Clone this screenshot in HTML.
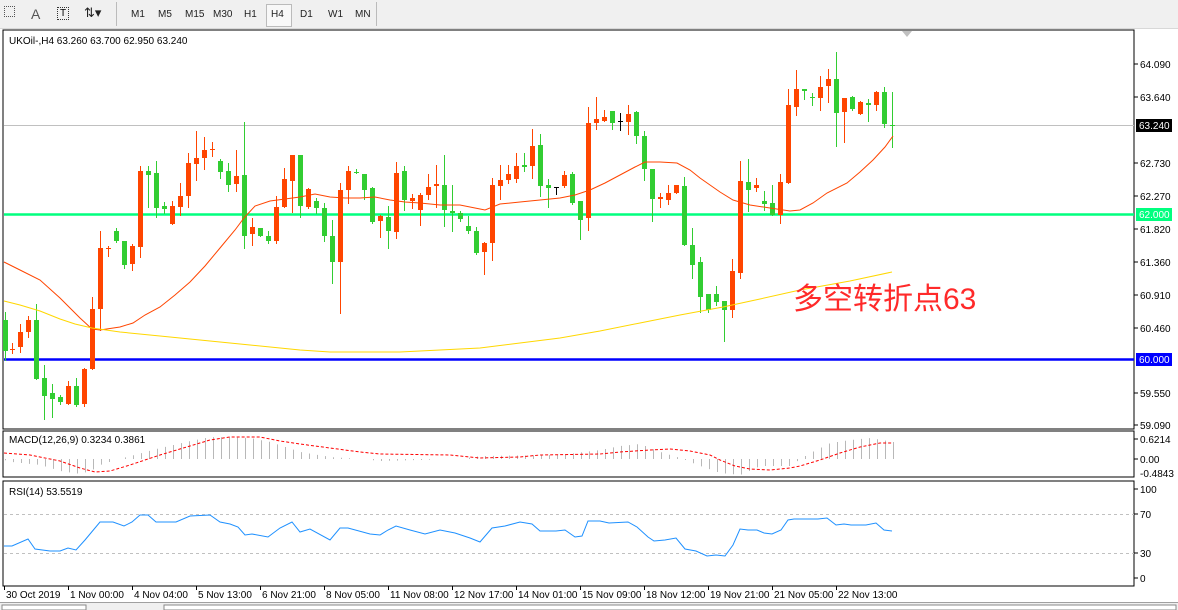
<!DOCTYPE html>
<html><head><meta charset="utf-8">
<style>
html,body{margin:0;padding:0;width:1178px;height:610px;overflow:hidden;background:#f0f0f0;font-family:"Liberation Sans",Tahoma,sans-serif}
#tb{position:absolute;left:0;top:0;width:1178px;height:28px;background:#f0f0f0;border-bottom:1px solid #d8d8d8}
.tf{position:absolute;top:9px;font-size:10px;color:#222}
svg{position:absolute;left:0;top:0}
</style></head><body>
<div id="tb">
 <div style="position:absolute;left:4px;top:6px;width:9px;height:9px;border:1px dotted #555"></div>
 <div class="tf" style="left:31px;top:6px;font-size:14px;color:#555">A</div>
 <div style="position:absolute;left:57px;top:7px;width:10px;height:11px;border:1px dotted #333;font-size:10px;text-align:center;line-height:11px">T</div>
 <div class="tf" style="left:84px;top:5px;font-size:13px">⇅▾</div>
 <div style="position:absolute;left:116px;top:2px;width:1px;height:24px;background:#bbb"></div>
 <div class="tf" style="left:131px">M1</div><div class="tf" style="left:158px">M5</div>
 <div class="tf" style="left:185px">M15</div><div class="tf" style="left:213px">M30</div>
 <div class="tf" style="left:244px">H1</div>
 <div style="position:absolute;left:266px;top:4px;width:24px;height:21px;border:1px solid #bbb;background:#f8f8f8"></div>
 <div class="tf" style="left:271px">H4</div><div class="tf" style="left:300px">D1</div>
 <div class="tf" style="left:328px">W1</div><div class="tf" style="left:355px">MN</div>
 <div style="position:absolute;left:376px;top:2px;width:1px;height:24px;background:#bbb"></div>
</div>
<svg id="s" width="1178" height="610" xmlns="http://www.w3.org/2000/svg" font-family="Liberation Sans, Tahoma, sans-serif" font-size="10"></svg>
<script>
var s=document.getElementById('s');var h='';
function R(x,y,w,hh,f,st){h+='<rect x="'+x+'" y="'+y+'" width="'+w+'" height="'+hh+'" fill="'+f+'"'+(st?' stroke="'+st+'"':'')+'/>';}
function L(x1,y1,x2,y2,c,w,d){h+='<line x1="'+x1+'" y1="'+y1+'" x2="'+x2+'" y2="'+y2+'" stroke="'+c+'" stroke-width="'+(w||1)+'"'+(d?' stroke-dasharray="'+d+'"':'')+'/>';}
function T(x,y,t,c,extra){h+='<text x="'+x+'" y="'+y+'" fill="'+(c||'#000')+'" '+(extra||'')+'>'+t+'</text>';}
function P(pts,c,w,d){h+='<polyline fill="none" stroke="'+c+'" stroke-width="'+(w||1)+'"'+(d?' stroke-dasharray="'+d+'"':'')+' points="'+pts.map(function(p){return p.join(',')}).join(' ')+'"/>';}
R(0,29,1178,581,'#ffffff');
R(3,30,1131,399,'#fff','#000');R(3,431,1131,46,'#fff','#000');R(3,481,1131,105,'#fff','#000');
L(4,125.5,1134,125.5,'#c0c0c0',1);
L(4,214.5,1134,214.5,'#00ff7f',2.5);
L(4,359.5,1134,359.5,'#0000ff',2.5);
var C=[[5,320,351,312,360,'g'],[12,349,349,343,353,'r'],[20,332,347,324,352,'r'],[28,320,332,316,337,'r'],[36,320,379,304,379,'g'],[44,378,396,365,419,'g'],[52,393,399,384,417,'g'],[60,397,402,395,404,'g'],[68,386,404,381,404,'r'],[76,386,405,378,406,'g'],[84,369,404,368,406,'r'],[92,309,369,297,369,'r'],[100,248,309,231,330,'r'],[108,248,248,246,256,'r'],[116,231,241,228,242,'g'],[124,241,265,241,268,'g'],[132,246,264,244,270,'r'],[140,171,247,166,257,'r'],[148,171,175,166,207,'g'],[156,173,208,161,217,'g'],[164,206,209,202,213,'g'],[172,206,224,201,224,'r'],[180,196,207,183,215,'r'],[188,163,196,153,207,'r'],[196,158,164,131,180,'r'],[204,150,158,137,169,'r'],[212,149,149,142,156,'r'],[220,161,172,159,178,'g'],[228,171,185,163,191,'g'],[236,176,184,150,191,'r'],[244,175,236,122,248,'g'],[252,227,234,218,245,'r'],[260,228,236,228,236,'g'],[268,236,241,231,243,'g'],[276,207,241,196,243,'r'],[284,179,207,168,207,'r'],[292,155,181,155,212,'r'],[300,155,206,155,217,'g'],[308,189,207,188,208,'r'],[316,201,208,198,213,'g'],[324,208,236,203,241,'g'],[332,236,262,220,283,'g'],[340,190,262,183,313,'r'],[348,171,190,166,203,'r'],[356,172,172,169,173,'g'],[364,174,190,174,199,'g'],[372,188,222,187,223,'g'],[380,216,221,215,237,'r'],[388,217,231,206,248,'g'],[396,173,232,162,238,'r'],[404,171,200,166,210,'g'],[412,198,201,194,208,'r'],[420,195,210,193,225,'r'],[428,187,195,174,199,'r'],[436,184,186,165,207,'r'],[444,185,210,155,226,'g'],[452,211,213,185,231,'g'],[460,213,219,211,221,'g'],[468,226,231,216,233,'g'],[476,231,253,227,254,'g'],[484,243,252,242,274,'r'],[492,185,243,178,260,'r'],[500,180,186,165,199,'r'],[508,174,180,165,183,'r'],[516,166,179,153,182,'r'],[524,165,167,153,171,'g'],[532,146,166,129,178,'r'],[540,145,186,134,196,'g'],[548,185,188,179,207,'g'],[556,187,187,187,194,'k'],[564,175,186,171,187,'r'],[572,174,203,172,204,'g'],[580,201,220,201,239,'g'],[588,123,218,107,230,'r'],[596,119,123,97,129,'r'],[604,117,121,110,121,'r'],[612,111,123,111,129,'g'],[620,121,121,113,130,'k'],[628,114,122,105,134,'r'],[636,112,136,111,143,'g'],[644,136,169,131,180,'g'],[652,169,199,169,221,'g'],[660,197,199,193,207,'r'],[668,193,200,185,204,'r'],[676,185,193,185,193,'r'],[684,186,245,177,245,'g'],[692,245,265,228,278,'g'],[700,262,297,257,312,'g'],[708,294,310,294,312,'g'],[716,294,302,286,305,'g'],[724,301,310,301,341,'g'],[732,271,310,259,317,'r'],[740,181,273,161,278,'r'],[748,182,190,159,211,'g'],[756,185,188,178,191,'r'],[764,201,204,191,210,'g'],[772,203,215,185,215,'g'],[780,182,215,174,223,'r'],[788,105,183,89,183,'r'],[796,89,107,70,115,'r'],[804,89,91,89,99,'g'],[812,97,97,93,105,'g'],[820,87,98,76,110,'r'],[828,79,86,69,102,'r'],[836,79,113,52,146,'g'],[844,98,112,98,142,'r'],[852,97,109,96,110,'g'],[860,102,114,101,114,'r'],[868,103,105,99,121,'g'],[876,92,105,91,110,'r'],[884,92,124,87,127,'g'],[892,125,126,92,147,'g']];
var col={r:'#ff4500',g:'#32cd32',k:'#000'};
C.forEach(function(c){var f=col[c[5]];L(c[0]+0.5,c[3],c[0]+0.5,c[4]+1,f,1);
 if(c[2]-c[1]<1){L(c[0]-2,c[1]+0.5,c[0]+3,c[1]+0.5,f,1);}else R(c[0]-2,c[1],5,c[2]-c[1],f);});
var red=[[4,262],[20,270],[40,280],[60,298],[80,318],[92,329],[100,330],[120,327],[133,323],[145,315],[160,307],[175,295],[190,282],[205,266],[220,248],[235,230],[244,218],[255,206],[270,201],[285,199],[300,197],[315,194],[330,197],[345,198],[360,198],[375,197],[390,200],[405,202],[420,203],[440,205],[460,205],[475,208],[485,210],[500,204],[520,202],[540,200],[560,198],[575,195],[590,190],[605,183],[620,175],[635,167],[645,162],[660,162],[677,163],[690,170],[700,178],[710,185],[720,192],[733,200],[750,205],[770,208],[790,211],[800,210],[813,203],[827,193],[847,183],[860,172],[873,160],[885,147],[893,136]];
P(red,'#ff4500',1);
var yel=[[4,301],[20,305],[40,311],[60,319],[75,324],[92,328],[120,332],[160,336],[200,340],[250,345],[300,350],[330,352],[400,352],[440,350],[480,348],[520,343],[560,338],[600,331],[640,323],[680,315],[723,307],[760,299],[800,290],[850,281],[892,272]];
P(yel,'#ffd700',1);
T(793,309,'多空转折点63','#ff2a2a','font-size="30" font-family="Liberation Sans, Noto Sans CJK SC, sans-serif"');
T(9,44,'UKOil-,H4  63.260 63.700 62.950 63.240','#000');
function sc(y,t){L(1134,y,1138,y,'#000',1);T(1140,y+4,t,'#000');}
[[64,'64.090'],[97,'63.640'],[163,'62.730'],[196,'62.270'],[229,'61.820'],[262,'61.360'],[295,'60.910'],[328,'60.460'],[393,'59.550'],[425,'59.090']].forEach(function(a){sc(a[0],a[1]);});
R(1136,119,36,13,'#000');T(1139,129,'63.240','#fff');
R(1136,208,36,13,'#00ff7f');T(1139,218,'62.000','#fff');
R(1136,353,36,13,'#0000ff');T(1139,363,'60.000','#fff');
function interp(arr,x){for(var i=0;i<arr.length-1;i++){if(x>=arr[i][0]&&x<=arr[i+1][0]){var t=(x-arr[i][0])/(arr[i+1][0]-arr[i][0]);return arr[i][1]+t*(arr[i+1][1]-arr[i][1]);}}return arr[arr.length-1][1];}
// MACD
T(9,443,'MACD(12,26,9) 0.3234 0.3861','#000');
var zero=459;
var hist=[[4,460],[12,462],[40,465],[60,471],[80,474],[92,470],[100,465],[115,460],[130,456],[160,448],[190,441],[210,437],[250,438],[270,442],[300,452],[330,457],[360,459],[380,461],[420,460],[460,459],[480,456],[560,455],[600,450],[620,446],[640,444],[660,452],[680,458],[700,466],[720,473],[740,475],[760,466],[790,466],[800,459],[810,453],[830,443],[850,440],[870,438],[893,442]];
for(var x=5;x<=893;x+=8){var y=interp(hist,x);if(Math.abs(y-zero)>0.6)L(x+0.5,zero,x+0.5,y,'#b8b8b8',1);}
var sig=[[4,453],[30,455],[60,461],[80,468],[95,472],[110,471],[130,465],[160,455],[190,446],[210,440],[230,437],[260,437],[280,441],[300,444],[330,448],[360,452],[380,454],[450,455],[480,458],[520,457],[540,455],[600,454],[620,452],[650,450],[670,449],[690,451],[700,453],[710,455],[720,460],[735,466],[750,469],[770,470],[790,468],[800,466],[820,460],[840,453],[860,447],[880,443],[893,443]];
P(sig,'#ff0000',1,'3,2');
sc(439,'0.6214');sc(459,'0.00');T(1140,477,'-0.4843','#000');
// RSI
T(9,495,'RSI(14) 53.5519','#000');
L(4,514.5,1134,514.5,'#c0c0c0',1,'3,3');L(4,553.5,1134,553.5,'#c0c0c0',1,'3,3');
var rsi=[[4,546],[12,546],[28,539],[35,549],[50,551],[60,551],[68,548],[76,550],[85,540],[100,522],[113,522],[124,526],[132,522],[140,515],[148,515],[156,522],[176,522],[190,516],[210,515],[220,522],[230,524],[238,527],[245,535],[252,534],[268,537],[280,528],[292,522],[300,532],[310,529],[330,540],[340,528],[348,528],[370,534],[380,535],[388,530],[396,526],[410,530],[425,534],[440,530],[455,533],[470,538],[480,542],[492,528],[505,526],[520,522],[532,524],[540,531],[556,531],[565,530],[575,537],[582,536],[588,521],[600,521],[609,523],[628,522],[637,527],[648,537],[654,541],[665,540],[676,538],[685,549],[696,551],[707,556],[716,555],[725,556],[733,545],[740,529],[748,530],[757,530],[764,533],[772,534],[781,530],[788,520],[794,519],[808,519],[818,519],[827,518],[836,525],[844,524],[851,525],[866,525],[876,523],[884,530],[892,531]];
P(rsi,'#1e90ff',1);
sc(489,'100');sc(514,'70');sc(553,'30');sc(578,'0');
var tl=[[4,'30 Oct 2019'],[68,'1 Nov 00:00'],[132,'4 Nov 04:00'],[196,'5 Nov 13:00'],[260,'6 Nov 21:00'],[324,'8 Nov 05:00'],[388,'11 Nov 08:00'],[452,'12 Nov 17:00'],[516,'14 Nov 01:00'],[580,'15 Nov 09:00'],[644,'18 Nov 12:00'],[708,'19 Nov 21:00'],[772,'21 Nov 05:00'],[836,'22 Nov 13:00']];
tl.forEach(function(a){L(a[0]+0.5,586,a[0]+0.5,590,'#000',1);T(a[0]+2,598,a[1],'#000');});
L(0,602.5,1178,602.5,'#a0a0a0',1);R(0,603,1178,7,'#f0f0f0');
R(2,605,84,5,'#fff','#888');R(164,605,1012,5,'#fff','#888');
h+='<polygon points="902,31 912,31 907,37" fill="#c0c0c0"/>';
s.innerHTML=h;
</script>
</body></html>
